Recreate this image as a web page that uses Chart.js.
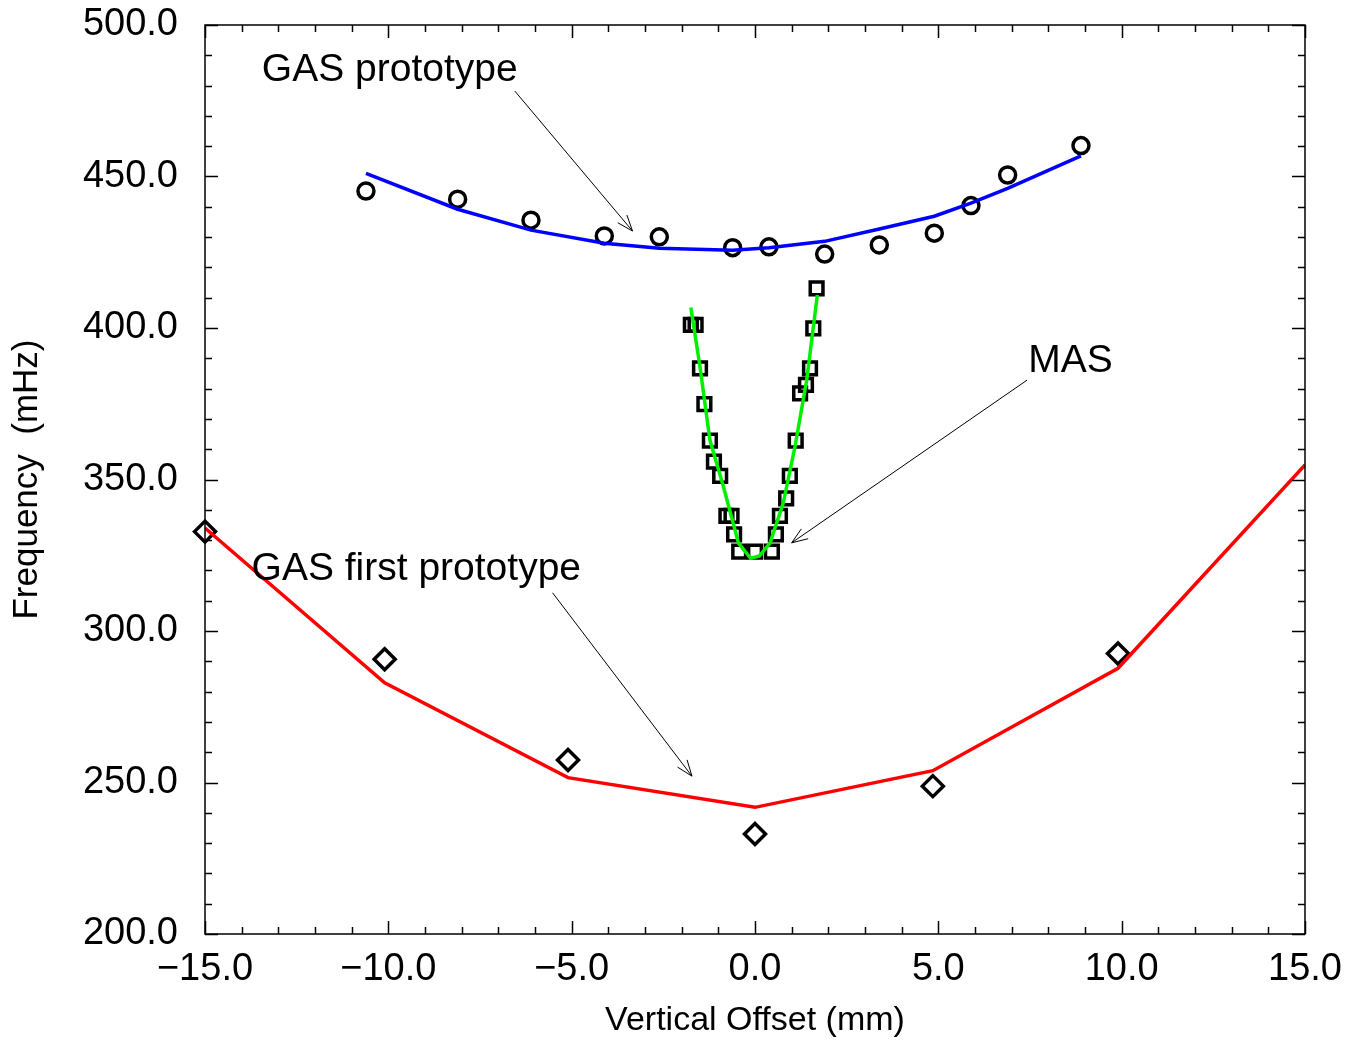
<!DOCTYPE html>
<html>
<head>
<meta charset="utf-8">
<script src="https://cdn.jsdelivr.net/npm/chart.js@4.4.1/dist/chart.umd.min.js"></script>
<style>
  html, body { margin: 0; padding: 0; background: #fff; }
  #wrap { width: 1362px; height: 1042px; position: relative; }
</style>
</head>
<body>
<div id="wrap"><canvas id="c" width="1362" height="1042"></canvas></div>
<script>
// ---- data ----
const xTickValues = [-15, -10, -5, 0, 5, 10, 15];
const yTickValues = [200, 250, 300, 350, 400, 450, 500];

// GAS prototype (circles + blue fit)
const gasProtoX    = [-10.61, -8.11, -6.11, -4.11, -2.61, -0.61, 0.38, 1.90, 3.39, 4.89, 5.89, 6.89, 8.89];
const gasProtoMeas = [445.2, 442.5, 435.6, 430.4, 430.1, 426.5, 426.8, 424.4, 427.4, 431.3, 440.4, 450.5, 460.2];
const gasProtoFit  = [451.0, 439.2, 432.3, 428.0, 426.3, 425.7, 426.5, 428.6, 432.7, 436.9, 441.2, 446.1, 456.8];

// GAS first prototype (diamonds + red line)
const firstProtoX    = [-15, -10.1, -5.1, 0, 4.85, 9.9];
const firstProtoMeas = [332.8, 290.7, 257.4, 233.0, 248.8, 292.6];
const firstProtoFitX = [-15, -10.1, -5.1, 0, 4.85, 9.9, 15];
const firstProtoFit  = [334.0, 282.9, 251.6, 241.8, 253.9, 287.7, 354.8];

// MAS (squares + green fit)
const masX = [-1.75, -1.62, 1.68, 1.59, -1.50, 1.50, 1.39, 1.23, -1.38, -1.23, 1.11, -1.12, -0.95, 0.95, 0.85, -0.78, -0.64, 0.68, -0.57, 0.57, -0.43, 0.00, 0.46];
const masY = [401.0, 401.0, 413.1, 399.9, 386.7, 386.7, 381.2, 378.4, 374.9, 362.8, 362.8, 355.9, 351.2, 351.2, 343.8, 338.0, 338.0, 338.0, 331.9, 331.9, 326.2, 326.2, 326.2];
const masFitX = [-1.75, -1.50, -1.23, -0.86, -0.45, -0.12, 0.12, 0.41, 0.77, 1.09, 1.41, 1.70];
const masFitY = [406.8, 387.2, 363.0, 347.6, 329.0, 324.0, 324.8, 329.0, 342.2, 360.8, 382.8, 410.9];

// annotations (text anchor and arrow in data coordinates)
const noteTexts  = ["GAS prototype", "MAS", "GAS first prototype"];
const noteTextX  = [-13.45, 7.45, -13.73];
const noteTextY  = [481.5, 385.5, 316.8];
const arrowFromX = [-6.55, 7.42, -5.52];
const arrowFromY = [478.2, 382.8, 312.6];
const arrowToX   = [-3.34, 1.00, -1.72];
const arrowToY   = [432.0, 329.1, 252.1];

const FONT = "'Liberation Sans', Arial, Helvetica, sans-serif";
const pts = (xs, ys) => xs.map((x, i) => ({x: x, y: ys[i]}));
const fmt = v => (v < 0 ? '\u2212' : '') + Math.abs(v).toFixed(1);

const framePlugin = {
  id: 'frame',
  afterDatasetsDraw(chart) {
    const ctx = chart.ctx;
    const a = chart.chartArea;
    const xs = chart.scales.x, ys = chart.scales.y;
    ctx.save();
    ctx.strokeStyle = '#000';
    ctx.lineWidth = 1.5;
    // inward ticks on all four sides
    ctx.beginPath();
    for (let v = xs.min; v <= xs.max + 1e-9; v += 1) {
      const px = Math.round(xs.getPixelForValue(v)) + 0.5;
      const len = (Math.abs(v % 5) < 1e-9) ? 13 : 7;
      ctx.moveTo(px, a.bottom); ctx.lineTo(px, a.bottom - len);
      ctx.moveTo(px, a.top);    ctx.lineTo(px, a.top + len);
    }
    for (let v = ys.min; v <= ys.max + 1e-9; v += 10) {
      const py = Math.round(ys.getPixelForValue(v)) + 0.5;
      const len = (Math.abs(v % 50) < 1e-9) ? 13 : 7;
      ctx.moveTo(a.left, py);  ctx.lineTo(a.left + len, py);
      ctx.moveTo(a.right, py); ctx.lineTo(a.right - len, py);
    }
    ctx.stroke();
    ctx.strokeRect(a.left, a.top, a.right - a.left, a.bottom - a.top);

    // annotations
    ctx.fillStyle = '#000';
    ctx.font = '39px ' + FONT;
    ctx.textBaseline = 'alphabetic';
    ctx.textAlign = 'left';
    noteTexts.forEach((t, i) => {
      ctx.fillText(t, xs.getPixelForValue(noteTextX[i]), ys.getPixelForValue(noteTextY[i]));
    });
    ctx.lineWidth = 1;
    for (let i = 0; i < arrowFromX.length; i++) {
      const x1 = xs.getPixelForValue(arrowFromX[i]), y1 = ys.getPixelForValue(arrowFromY[i]);
      const x2 = xs.getPixelForValue(arrowToX[i]),   y2 = ys.getPixelForValue(arrowToY[i]);
      const ang = Math.atan2(y2 - y1, x2 - x1);
      const hl = 17, ha = 0.36;
      ctx.beginPath();
      ctx.moveTo(x1, y1); ctx.lineTo(x2, y2);
      ctx.moveTo(x2 - hl * Math.cos(ang - ha), y2 - hl * Math.sin(ang - ha));
      ctx.lineTo(x2, y2);
      ctx.lineTo(x2 - hl * Math.cos(ang + ha), y2 - hl * Math.sin(ang + ha));
      ctx.stroke();
    }
    ctx.restore();
  }
};

const markerCommon = { showLine: false, pointBorderColor: '#000', pointBorderWidth: 3.5,
                       pointBackgroundColor: 'rgba(0,0,0,0)', clip: false, order: 1 };

new Chart(document.getElementById('c'), {
  type: 'scatter',
  data: {
    datasets: [
      { label: 'GAS prototype fit', data: pts(gasProtoX, gasProtoFit), showLine: true,
        borderColor: '#0000ff', borderWidth: 3.5, pointRadius: 0, tension: 0, order: 0 },
      { label: 'GAS first prototype fit', data: pts(firstProtoFitX, firstProtoFit), showLine: true,
        borderColor: '#ff0000', borderWidth: 3.5, pointRadius: 0, tension: 0, order: 0 },
      { label: 'MAS fit', data: pts(masFitX, masFitY), showLine: true,
        borderColor: '#00f000', borderWidth: 3.5, pointRadius: 0, tension: 0, order: 0 },
      Object.assign({ label: 'GAS prototype', data: pts(gasProtoX, gasProtoMeas),
        pointStyle: 'circle', pointRadius: 8 }, markerCommon),
      Object.assign({ label: 'GAS first prototype', data: pts(firstProtoX, firstProtoMeas),
        pointStyle: 'rectRot', pointRadius: 10.5 }, markerCommon),
      Object.assign({ label: 'MAS', data: pts(masX, masY),
        pointStyle: 'rect', pointRadius: 9 }, markerCommon)
    ]
  },
  options: {
    responsive: false,
    animation: false,
    events: [],
    layout: { padding: { left: 0, top: 25, right: 57, bottom: 0 } },
    plugins: { legend: { display: false }, tooltip: { enabled: false } },
    scales: {
      x: {
        type: 'linear', min: -15, max: 15,
        afterBuildTicks: s => { s.ticks = xTickValues.map(v => ({value: v})); },
        afterFit: s => { s.height = 108; s.paddingLeft = 0; s.paddingRight = 0; },
        grid: { display: false, drawTicks: false },
        border: { display: false },
        ticks: { color: '#000', font: { family: FONT, size: 38 }, padding: 13,
                 maxRotation: 0, autoSkip: false, callback: v => fmt(v) },
        title: { display: true, text: 'Vertical Offset (mm)', color: '#000',
                 font: { family: FONT, size: 34 }, padding: { top: 0, bottom: 1 } }
      },
      y: {
        type: 'linear', min: 200, max: 500,
        afterBuildTicks: s => { s.ticks = yTickValues.map(v => ({value: v})); },
        afterFit: s => { s.width = 205; s.paddingTop = 0; s.paddingBottom = 0; },
        grid: { display: false, drawTicks: false },
        border: { display: false },
        ticks: { color: '#000', font: { family: FONT, size: 38 }, padding: 27,
                 autoSkip: false, callback: v => fmt(v) },
        title: { display: true, text: 'Frequency  (mHz)', color: '#000',
                 font: { family: FONT, size: 35 }, padding: { top: 6, bottom: 0 } }
      }
    }
  },
  plugins: [framePlugin]
});
</script>
</body>
</html>
